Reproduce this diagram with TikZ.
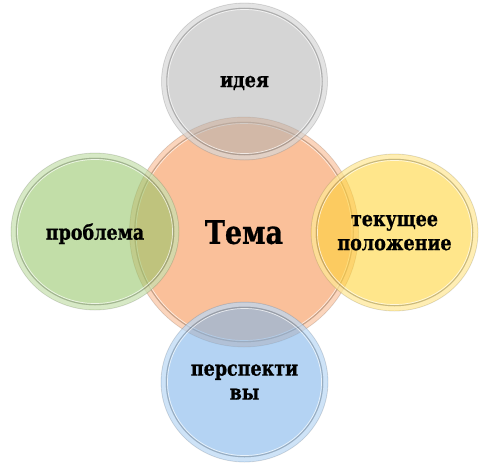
\documentclass[tikz,border=0pt]{standalone}
\usepackage{fontspec}
\setmainfont{DejaVu Serif}
\newfontfamily\lblfont{DejaVu Serif Bold}[FakeBold=0.9]
\usetikzlibrary{shapes.geometric}
\definecolor{cOrange}{RGB}{250,192,154}
\definecolor{cGray}{RGB}{178,178,178}
\definecolor{cGreen}{RGB}{150,198,105}
\definecolor{cYellow}{RGB}{255,212,55}
\definecolor{cBlue}{RGB}{125,180,234}
\newcommand\vsc[1]{\scalebox{1}[1.2]{#1}}
\tikzset{
  ball/.style={ellipse, inner sep=0pt, draw=black!40, draw opacity=0.3, line width=0.8pt,
     text opacity=1, align=center, text depth=0pt, font=\lblfont\fontsize{17.5}{24}\selectfont},
  rimband/.style={draw=white, draw opacity=0.35, line width=4pt},
  rimline/.style={draw=black!55, draw opacity=0.4, line width=1.1pt},
  rimhigh/.style={draw=white, draw opacity=0.7, line width=0.7pt},
}
\newcommand\glassball[8]{%
  \node[ball, fill=#6, fill opacity=#7, minimum width=2*#4pt, minimum height=2*#5pt] (#1) at (#2,#3) {#8};
  \path[rimband] (#1.center) ellipse [x radius=#4pt-2.5pt, y radius=#5pt-2.5pt];
  \path[rimline] (#1.center) ellipse [x radius=#4pt-5.3pt, y radius=#5pt-5.3pt];
  \path[rimhigh] (#1.center) ellipse [x radius=#4pt-6.5pt, y radius=#5pt-6.5pt];
}
\begin{document}
\begin{tikzpicture}[x=1pt,y=-1pt]
\useasboundingbox (0,0) rectangle (489,463);
\glassball{tema}{244}{232}{114.5}{115}{cOrange}{1}{\fontsize{27}{30}\selectfont\vsc{Тема}}
\glassball{idea}{244.5}{81.5}{83}{78.5}{cGray}{0.55}{\vsc{идея}}
\glassball{problema}{95}{231.5}{84}{78.5}{cGreen}{0.58}{\vsc{проблема}}
\glassball{polozh}{394.5}{232.5}{83.5}{78.5}{cYellow}{0.58}{\vsc{текущее}\\\vsc{положение}}
\glassball{persp}{244.5}{382}{83.5}{80}{cBlue}{0.58}{\vsc{перспекти}\\\vsc{вы}}
\end{tikzpicture}
\end{document}
